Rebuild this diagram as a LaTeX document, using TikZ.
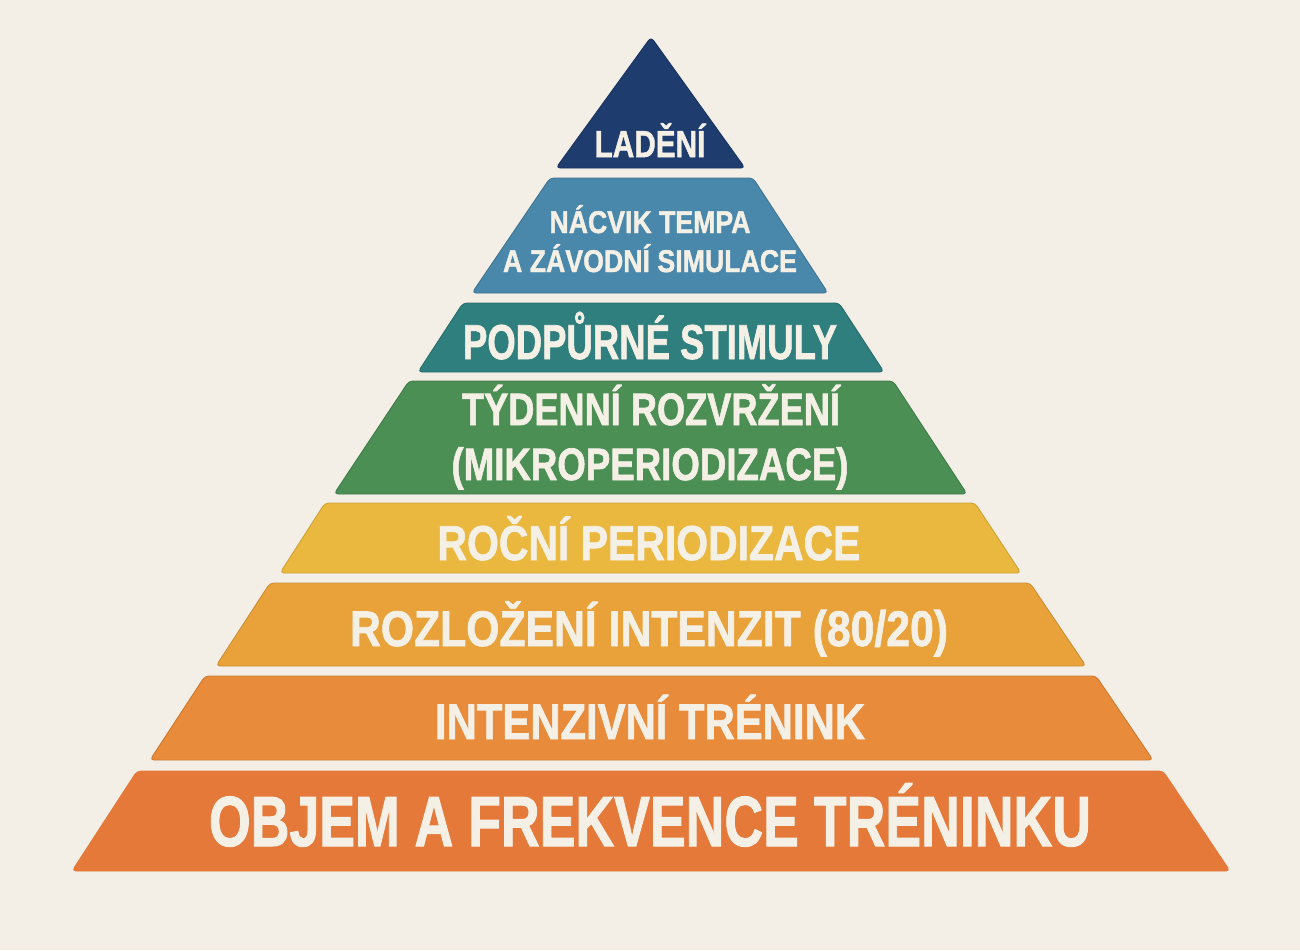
\documentclass[tikz,border=0pt]{standalone}
\usepackage{fontspec}
\setmainfont{Liberation Sans}
\newfontfamily\pyrfont{Liberation Sans}[BoldFeatures={FakeBold=1.5}]
\usepackage{graphicx}
\definecolor{bgc}{HTML}{F3EFE7}
\definecolor{txtc}{HTML}{F5F0E6}
\definecolor{c1}{HTML}{1F3C6E}
\definecolor{c2}{HTML}{4A88AB}
\definecolor{c3}{HTML}{2F7F7E}
\definecolor{c4}{HTML}{4B8F55}
\definecolor{c5}{HTML}{EAB83E}
\definecolor{c6}{HTML}{E9A23A}
\definecolor{c7}{HTML}{E88B3A}
\definecolor{c8}{HTML}{E4793A}
\newcommand{\pyrtxt}[3]{\resizebox{#1pt}{\height}{\fontsize{#2}{#2}\selectfont\pyrfont\bfseries #3}}
\begin{document}
\begin{tikzpicture}[x=1pt,y=-1pt,
  tierbox/.style={rounded corners=4pt, line width=0.9pt, line join=round},
  lbl/.style={text=txtc, inner sep=0pt, anchor=base}]
\fill[bgc] (0,0) rectangle (1300,950);
\useasboundingbox (0,0) rectangle (1300,950);
% tiers
\filldraw[tierbox, fill=c1, draw=c1!85!black] (556,168) -- (651,37) -- (745,168) -- cycle;
\filldraw[tierbox, fill=c2, draw=c2!85!black] (472,293) -- (550,178) -- (753,178) -- (828,293) -- cycle;
\filldraw[tierbox, fill=c3, draw=c3!85!black] (418,372) -- (463,303) -- (839,303) -- (884,372) -- cycle;
\filldraw[tierbox, fill=c4, draw=c4!85!black] (334,494) -- (409,381) -- (893,381) -- (967,494) -- cycle;
\filldraw[tierbox, fill=c5, draw=c5!88!black] (280,573) -- (325,503) -- (975,503) -- (1021,573) -- cycle;
\filldraw[tierbox, fill=c6, draw=c6!88!black] (216,666) -- (270,583) -- (1030,583) -- (1086,666) -- cycle;
\filldraw[tierbox, fill=c7, draw=c7!88!black] (150,760) -- (205,676) -- (1096,676) -- (1153,760) -- cycle;
\filldraw[tierbox, fill=c8, draw=c8] (72,871) -- (137,771) -- (1163,771) -- (1230,871) -- cycle;
% labels
\node[lbl] (l1) at (650,157) {\pyrtxt{111}{37.7}{LADĚNÍ}};
\node[lbl] (l2a) at (650,233) {\pyrtxt{201}{31.5}{NÁCVIK TEMPA}};
\node[lbl] (l2b) at (650,272) {\pyrtxt{294}{31.5}{A ZÁVODNÍ SIMULACE}};
\node[lbl] (l3) at (650,359) {\pyrtxt{374}{49}{PODPŮRNÉ STIMULY}};
\node[lbl] (l4a) at (651,425) {\pyrtxt{378}{45.4}{TÝDENNÍ ROZVRŽENÍ}};
\node[lbl] (l4b) at (650,480) {\pyrtxt{397}{45.4}{(MIKROPERIODIZACE)}};
\node[lbl] (l5) at (649,560) {\pyrtxt{423}{49}{ROČNÍ PERIODIZACE}};
\node[lbl] (l6) at (649,646) {\pyrtxt{598}{50}{ROZLOŽENÍ INTENZIT (80/20)}};
\node[lbl] (l7) at (650,739) {\pyrtxt{430}{50}{INTENZIVNÍ TRÉNINK}};
\node[lbl] (l8) at (650,846) {\pyrtxt{882}{71}{OBJEM A FREKVENCE TRÉNINKU}};
\end{tikzpicture}
\end{document}
